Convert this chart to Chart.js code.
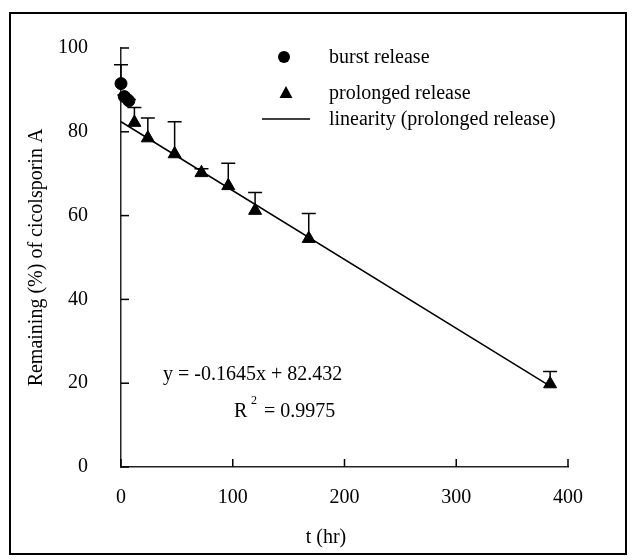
<!DOCTYPE html>
<html>
<head>
<meta charset="utf-8">
<script src="https://cdn.jsdelivr.net/npm/chart.js@4.4.1/dist/chart.umd.min.js"></script>
<style>
  html, body { margin: 0; background: #fff; }
  #wrap { width: 635px; height: 560px; }
</style>
</head>
<body>
<div id="wrap"><canvas id="c" width="635" height="560"></canvas></div>
<script>
// burst release (circles)
const burstT = [0, 3, 7];
const burstVal = [91.5, 88.4, 87.4];
const burstErr = [4.5, 0.4, 0.3];
// prolonged release (triangles)
const prolT = [12, 24, 48, 72, 96, 120, 168, 384];
const prolVal = [82.2, 78.5, 74.7, 70.2, 67.1, 61.2, 54.5, 19.8];
const prolErr = [3.6, 4.8, 7.7, 1.0, 5.4, 4.3, 6.0, 3.0];
// fitted line end points
const fitT = [0, 384];
const fitVal = [82.4, 19.3];

const xTicks = [0, 100, 200, 300, 400];
const yTicks = [0, 20, 40, 60, 80, 100];
const legendLabels = ['burst release', 'prolonged release', 'linearity (prolonged release)'];
const xTitle = 't (hr)';
const yTitle = 'Remaining (%) of cicolsporin A';
const eqText = 'y = -0.1645x + 82.432';
const r2Text = '= 0.9975';

const FONT = '"Liberation Serif", "Times New Roman", serif';
const FS = 20;
const toPts = (xs, ys) => xs.map((v, i) => ({ x: v, y: ys[i] }));

const decor = {
  id: 'decor',
  beforeDraw(chart) {
    const ctx = chart.ctx;
    ctx.save();
    ctx.fillStyle = '#fff';
    ctx.fillRect(0, 0, chart.width, chart.height);
    ctx.strokeStyle = '#000';
    ctx.lineWidth = 2;
    ctx.strokeRect(10, 13, 616, 541);
    ctx.restore();
  },
  afterDatasetsDraw(chart) {
    const { ctx, scales: { x, y } } = chart;
    ctx.save();
    ctx.strokeStyle = '#000';
    ctx.lineWidth = 1.5;
    // inward tick marks
    yTicks.forEach(v => {
      const py = y.getPixelForValue(v);
      ctx.beginPath(); ctx.moveTo(x.left, py); ctx.lineTo(x.left + 8, py); ctx.stroke();
    });
    xTicks.forEach(v => {
      const px = x.getPixelForValue(v);
      ctx.beginPath(); ctx.moveTo(px, y.bottom); ctx.lineTo(px, y.bottom - 8); ctx.stroke();
    });
    // error bars (upper only)
    const bars = (ts, vs, es) => ts.forEach((t, i) => {
      const px = x.getPixelForValue(t);
      const p0 = y.getPixelForValue(vs[i]);
      const p1 = y.getPixelForValue(vs[i] + es[i]);
      ctx.beginPath();
      ctx.moveTo(px, p0); ctx.lineTo(px, p1);
      ctx.moveTo(px - 7, p1); ctx.lineTo(px + 7, p1);
      ctx.stroke();
    });
    bars(burstT, burstVal, burstErr);
    bars(prolT, prolVal, prolErr);

    // legend
    ctx.fillStyle = '#000';
    ctx.font = FS + 'px ' + FONT;
    ctx.textBaseline = 'middle';
    ctx.textAlign = 'left';
    ctx.beginPath(); ctx.arc(284, 57, 6, 0, Math.PI * 2); ctx.fill();
    ctx.fillText(legendLabels[0], 329, 58);
    ctx.beginPath(); ctx.moveTo(286, 86); ctx.lineTo(292.5, 98); ctx.lineTo(279.5, 98); ctx.closePath(); ctx.fill();
    ctx.fillText(legendLabels[1], 329, 94);
    ctx.beginPath(); ctx.moveTo(262, 119); ctx.lineTo(310, 119); ctx.stroke();
    ctx.fillText(legendLabels[2], 329, 120);

    // x axis title (sits a little left of the axis centre in the original)
    ctx.textAlign = 'center';
    ctx.fillText(xTitle, 326, 538);

    // regression text
    ctx.textAlign = 'left';
    ctx.textBaseline = 'alphabetic';
    ctx.fillText(eqText, 163, 380);
    ctx.fillText('R', 234, 417);
    ctx.font = '12px ' + FONT;
    ctx.fillText('2', 251, 404);
    ctx.font = FS + 'px ' + FONT;
    ctx.fillText(r2Text, 264, 417);
    ctx.restore();
  }
};

new Chart(document.getElementById('c'), {
  type: 'scatter',
  data: {
    datasets: [
      {
        label: legendLabels[0],
        data: toPts(burstT, burstVal),
        pointStyle: 'circle', pointRadius: 6,
        backgroundColor: '#000', borderColor: '#000',
        clip: false
      },
      {
        label: legendLabels[1],
        data: toPts(prolT, prolVal),
        pointStyle: 'triangle', pointRadius: 7.5,
        backgroundColor: '#000', borderColor: '#000',
        clip: false
      },
      {
        label: legendLabels[2],
        data: toPts(fitT, fitVal),
        showLine: true, pointRadius: 0,
        borderColor: '#000', borderWidth: 1.5,
        clip: false
      }
    ]
  },
  options: {
    responsive: false,
    animation: false,
    devicePixelRatio: 1,
    layout: { padding: { left: 20, right: 67, top: 48, bottom: 11 } },
    plugins: { legend: { display: false }, tooltip: { enabled: false } },
    scales: {
      x: {
        type: 'linear', min: 0, max: 400,
        afterFit: s => { s.height = 82; },
        afterBuildTicks: s => { s.ticks = xTicks.map(v => ({ value: v })); },
        grid: { display: false },
        border: { display: true, color: '#222', width: 1.5 },
        ticks: { color: '#000', font: { family: FONT, size: FS }, padding: 11, maxRotation: 0 }
      },
      y: {
        type: 'linear', min: 0, max: 100,
        afterFit: s => { s.width = 101; },
        afterBuildTicks: s => { s.ticks = yTicks.map(v => ({ value: v })); },
        grid: { display: false },
        border: { display: true, color: '#222', width: 1.5 },
        ticks: { color: '#000', font: { family: FONT, size: FS }, padding: 25 },
        title: { display: true, text: yTitle, color: '#000', font: { family: FONT, size: FS }, padding: { top: 5, bottom: 0 } }
      }
    }
  },
  plugins: [decor]
});
</script>
</body>
</html>
